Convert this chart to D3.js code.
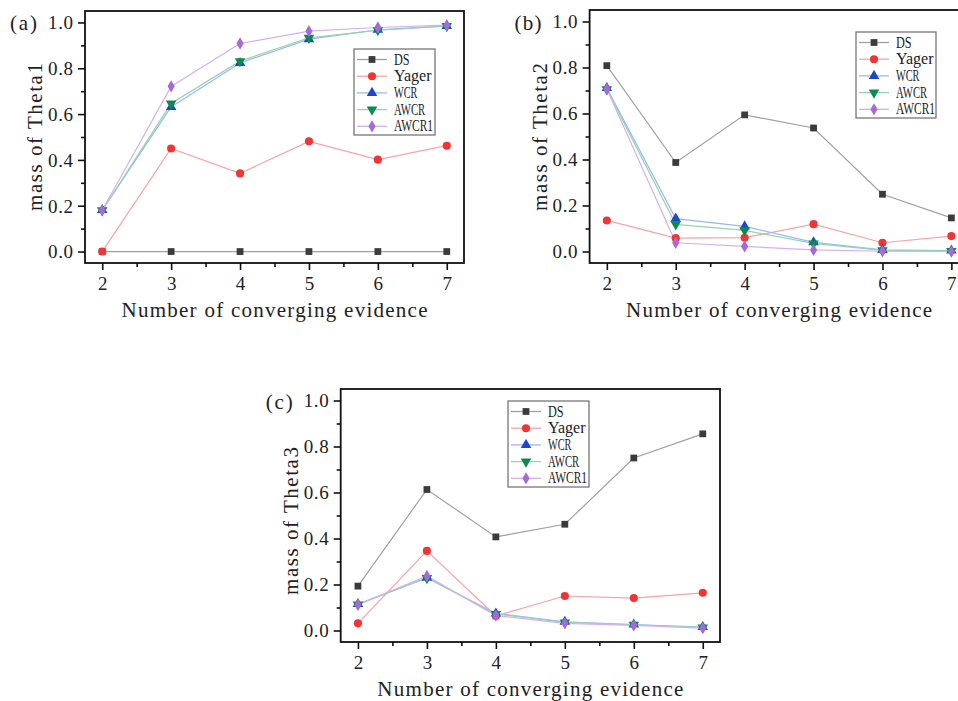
<!DOCTYPE html>
<html><head><meta charset="utf-8">
<script src="https://cdn.jsdelivr.net/npm/d3@7"></script>
<style>body{margin:0;background:#fff;} svg{display:block;} text{font-family:"Liberation Serif","DejaVu Serif",serif;fill:#222;}</style>
</head><body>
<svg id="c" width="958" height="701"></svg>
<script>
// ---- data ----
const xValues = [2, 3, 4, 5, 6, 7];
const seriesNames = ["DS", "Yager", "WCR", "AWCR", "AWCR1"];
const yTicks = [0, 0.2, 0.4, 0.6, 0.8, 1.0];
const xAxisTitle = "Number of converging evidence";
const panelLabels = ["(a)", "(b)", "(c)"];
const yAxisTitles = ["mass of Theta1", "mass of Theta2", "mass of Theta3"];

const theta1DS    = [0, 0, 0, 0, 0, 0];
const theta1Yager = [0, 0.450, 0.341, 0.481, 0.401, 0.462];
const theta1WCR   = [0.181, 0.631, 0.823, 0.927, 0.968, 0.985];
const theta1AWCR  = [0.180, 0.646, 0.831, 0.933, 0.966, 0.984];
const theta1AWCR1 = [0.180, 0.721, 0.908, 0.962, 0.978, 0.988];

const theta2DS    = [0.808, 0.387, 0.594, 0.537, 0.249, 0.146];
const theta2Yager = [0.135, 0.058, 0.060, 0.119, 0.038, 0.067];
const theta2WCR   = [0.711, 0.143, 0.109, 0.040, 0.007, 0.004];
const theta2AWCR  = [0.705, 0.118, 0.092, 0.035, 0.005, 0.002];
const theta2AWCR1 = [0.706, 0.038, 0.022, 0.007, 0.001, 0.000];

const theta3DS    = [0.193, 0.613, 0.407, 0.462, 0.750, 0.855];
const theta3Yager = [0.031, 0.346, 0.063, 0.150, 0.141, 0.164];
const theta3WCR   = [0.115, 0.230, 0.074, 0.038, 0.026, 0.015];
const theta3AWCR  = [0.113, 0.228, 0.072, 0.035, 0.025, 0.013];
const theta3AWCR1 = [0.112, 0.237, 0.065, 0.031, 0.022, 0.010];

// ---- styles ----
const markerColors = ["#3b3b3b", "#f23434", "#1848cc", "#0e8a4c", "#a66ad8"];
const lineColors   = ["#a0a0a0", "#f9a3a3", "#9ab8f0", "#97d3b0", "#d3b0ee"];
const markerTypes  = [d3.symbolSquare, d3.symbolCircle, d3.symbolTriangle, "down", d3.symbolDiamond];

const panels = [
  {L: 85,    R: 464,   T: 11,  B: 263, data: [theta1DS, theta1Yager, theta1WCR, theta1AWCR, theta1AWCR1],
   legend: {x: 354, y: 49, w: 81, h: 86}, titleY: 317, ylabCY: 137, labY: 30},
  {L: 589.6, R: 968.6, T: 10,  B: 263, data: [theta2DS, theta2Yager, theta2WCR, theta2AWCR, theta2AWCR1],
   legend: {x: 856, y: 32, w: 80, h: 86}, titleY: 317, ylabCY: 137, labY: 30},
  {L: 340.7, R: 720,   T: 389, B: 642, data: [theta3DS, theta3Yager, theta3WCR, theta3AWCR, theta3AWCR1],
   legend: {x: 508, y: 401, w: 81, h: 86}, titleY: 696, ylabCY: 521, labY: 409}
];

const svg = d3.select("#c");

function marker(g, type, color, cx, cy) {
  if (type === "down") {
    g.append("path").attr("d", d3.symbol(d3.symbolTriangle, 48)())
      .attr("transform", `translate(${cx},${cy}) rotate(180)`).attr("fill", color);
  } else {
    const size = type === d3.symbolSquare ? 46 : type === d3.symbolCircle ? 52 : type === d3.symbolDiamond ? 44 : 48;
    g.append("path").attr("d", d3.symbol(type, size)())
      .attr("transform", `translate(${cx},${cy})`).attr("fill", color);
  }
}

panels.forEach((p, pi) => {
  const g = svg.append("g");
  const x = d3.scaleLinear().domain([1.75, 7.25]).range([p.L, p.R]);
  const y = d3.scaleLinear().domain([-0.05, 1.05]).range([p.B, p.T]);

  // series lines
  seriesNames.forEach((name, si) => {
    const line = d3.line().x((d, i) => x(xValues[i])).y(d => y(d));
    g.append("path").attr("d", line(p.data[si])).attr("fill", "none")
      .attr("stroke", lineColors[si]).attr("stroke-width", 1.2);
  });
  // markers
  seriesNames.forEach((name, si) => {
    p.data[si].forEach((v, i) => marker(g, markerTypes[si], markerColors[si], x(xValues[i]), y(v)));
  });

  // frame
  g.append("rect").attr("x", p.L).attr("y", p.T).attr("width", p.R - p.L).attr("height", p.B - p.T)
    .attr("fill", "none").attr("stroke", "#111").attr("stroke-width", 1.8);

  // y axis
  const ya = g.append("g").attr("transform", `translate(${p.L},0)`)
    .call(d3.axisLeft(y).tickValues(yTicks).tickFormat(d3.format(".1f")).tickSize(7).tickPadding(5));
  ya.select(".domain").remove();
  ya.selectAll("line").attr("stroke", "#111").attr("stroke-width", 1.6);
  ya.selectAll("text").attr("font-size", 19).attr("textLength", 25).attr("lengthAdjust", "spacing")
    .attr("font-family", "Liberation Serif").attr("fill", "#222").attr("dy", "0.33em");
  const yMinor = g.append("g").attr("transform", `translate(${p.L},0)`)
    .call(d3.axisLeft(y).tickValues([0.1, 0.3, 0.5, 0.7, 0.9]).tickFormat("").tickSize(4));
  yMinor.select(".domain").remove();
  yMinor.selectAll("line").attr("stroke", "#111").attr("stroke-width", 1.6);

  // x axis
  const xa = g.append("g").attr("transform", `translate(0,${p.B})`)
    .call(d3.axisBottom(x).tickValues(xValues).tickFormat(d3.format("d")).tickSize(7));
  xa.select(".domain").remove();
  xa.selectAll("line").attr("stroke", "#111").attr("stroke-width", 1.6);
  xa.selectAll("text").attr("dy", null).attr("y", 27).attr("font-size", 19)
    .attr("font-family", "Liberation Serif").attr("fill", "#222");
  const xMinor = g.append("g").attr("transform", `translate(0,${p.B})`)
    .call(d3.axisBottom(x).tickValues([2.5, 3.5, 4.5, 5.5, 6.5]).tickFormat("").tickSize(4));
  xMinor.select(".domain").remove();
  xMinor.selectAll("line").attr("stroke", "#111").attr("stroke-width", 1.6);

  // titles
  g.append("text").attr("x", (x(2) + x(7)) / 2).attr("y", p.titleY).attr("text-anchor", "middle")
    .attr("font-size", 21).attr("textLength", 306).attr("lengthAdjust", "spacing")
    .text(xAxisTitle);
  g.append("text").attr("transform", `translate(${p.L - 43},${p.ylabCY}) rotate(-90)`).attr("text-anchor", "middle")
    .attr("font-size", 21).attr("textLength", 148).attr("lengthAdjust", "spacing")
    .text(yAxisTitles[pi]);
  g.append("text").attr("x", p.L - 48).attr("y", p.labY).attr("text-anchor", "end")
    .attr("font-size", 21).attr("textLength", 27).attr("lengthAdjust", "spacing")
    .text(panelLabels[pi]);

  // legend
  const lg = p.legend;
  g.append("rect").attr("x", lg.x).attr("y", lg.y).attr("width", lg.w).attr("height", lg.h)
    .attr("fill", "#fff").attr("stroke", "#777").attr("stroke-width", 1.3);
  seriesNames.forEach((name, si) => {
    const ry = lg.y + 10.5 + si * 16.7;
    g.append("line").attr("x1", lg.x + 3).attr("x2", lg.x + 33).attr("y1", ry).attr("y2", ry)
      .attr("stroke", lineColors[si]).attr("stroke-width", 1.3);
    marker(g, markerTypes[si], markerColors[si], lg.x + 18, ry);
    const t = g.append("text").attr("x", lg.x + 40).attr("y", ry + 5).attr("font-size", 16).text(name);
    const natural = t.node().getComputedTextLength();
    const target = name.length * 7.8;
    if (natural > target) t.attr("textLength", target).attr("lengthAdjust", "spacingAndGlyphs");
  });
});
</script>
</body></html>
